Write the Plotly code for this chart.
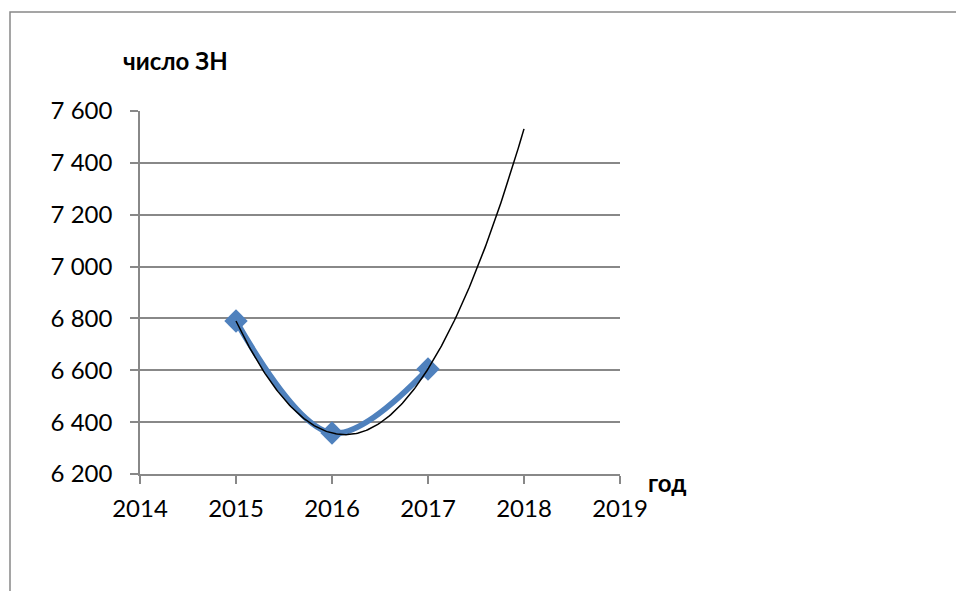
import numpy as np
import plotly.graph_objects as go

years = [2015, 2016, 2017]
values = [6790, 6358, 6605]
y_title = "число ЗН"
x_title = "год"

# polynomial (order 2) trendline, forecast forward 1 period
coef = np.polyfit(years, values, 2)
tx = np.linspace(2015, 2018, 200)
ty = np.polyval(coef, tx)

fig = go.Figure()
fig.add_trace(go.Scatter(x=years, y=values, mode="lines+markers",
                         line=dict(color="#4F81BD", width=6, shape="spline"),
                         marker=dict(symbol="diamond", size=18, color="#4F81BD"),
                         showlegend=False))
fig.add_trace(go.Scatter(x=tx, y=ty, mode="lines",
                         line=dict(color="black", width=1.5),
                         showlegend=False))

FAM = "Lato, Open Sans, sans-serif"
font = dict(family=FAM, size=24, color="black")
W, H = 956, 591
L, R, T, B = 140, 620, 111, 474
pw, ph = R - L, B - T

fig.update_layout(
    width=W, height=H,
    margin=dict(l=L, r=W - R, t=T, b=H - B),
    plot_bgcolor="white", paper_bgcolor="white",
    font=font,
    separators=", ",
    xaxis=dict(range=[2014, 2019], dtick=1, tick0=2014, showgrid=False,
               showline=True, linecolor="#888888", linewidth=1.5,
               ticks="outside", ticklen=8, tickcolor="#888888", tickwidth=1.5,
               zeroline=False, tickfont=font, ticklabelstandoff=4),
    yaxis=dict(range=[6200, 7600], dtick=200, tick0=6200, showgrid=True,
               gridcolor="#888888", gridwidth=1.5, separatethousands=True,
               tickformat=",d",
               showline=True, linecolor="#888888", linewidth=1.5,
               ticks="outside", ticklen=8, tickcolor="#888888", tickwidth=1.5,
               zeroline=False, tickfont=font, ticklabelstandoff=13),
    shapes=[dict(type="rect", xref="paper", yref="paper",
                 x0=(10 - L) / pw, x1=(1000 - L) / pw,
                 y0=(B - 650) / ph, y1=(B - 12) / ph,
                 line=dict(color="#888888", width=1.5), fillcolor="rgba(0,0,0,0)",
                 layer="below")],
    annotations=[
        dict(text="<b>" + y_title + "</b>", xref="paper", yref="paper",
             x=(175 - L) / pw, y=(B - 60) / ph, showarrow=False,
             xanchor="center", yanchor="middle",
             font=dict(family=FAM, size=24, color="black")),
        dict(text="<b>" + x_title + "</b>", xref="paper", yref="paper",
             x=(646 - L) / pw, y=(B - 482) / ph, showarrow=False,
             xanchor="left", yanchor="middle",
             font=dict(family=FAM, size=24, color="black")),
    ],
)

fig.write_html("out.html")
